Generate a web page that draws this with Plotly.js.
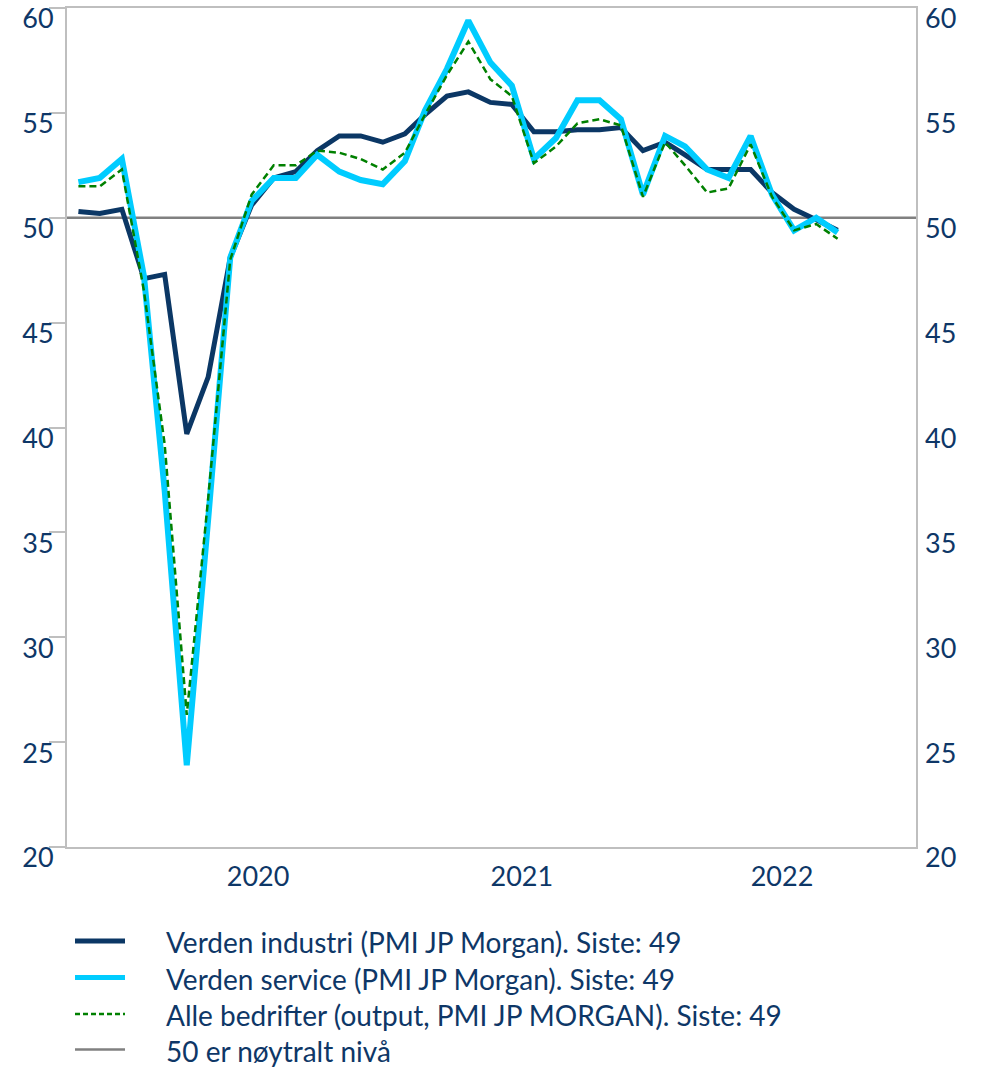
<!DOCTYPE html>
<html>
<head>
<meta charset="utf-8">
<script src="https://cdn.plot.ly/plotly-3.0.1.min.js"></script>
<style>html,body{margin:0;padding:0;background:#fff;}#chart{width:982px;height:1067px;}</style>
</head>
<body>
<div id="chart"></div>
<script>
// ---- Data ----
const months = [
  "2019-11-01","2019-12-01",
  "2020-01-01","2020-02-01","2020-03-01","2020-04-01","2020-05-01","2020-06-01",
  "2020-07-01","2020-08-01","2020-09-01","2020-10-01","2020-11-01","2020-12-01",
  "2021-01-01","2021-02-01","2021-03-01","2021-04-01","2021-05-01","2021-06-01",
  "2021-07-01","2021-08-01","2021-09-01","2021-10-01","2021-11-01","2021-12-01",
  "2022-01-01","2022-02-01","2022-03-01","2022-04-01","2022-05-01","2022-06-01",
  "2022-07-01","2022-08-01","2022-09-01","2022-10-01"
];
const industri = [
  50.3, 50.2,
  50.4, 47.1, 47.3, 39.7, 42.4, 48.1,
  50.6, 51.9, 52.2, 53.2, 53.9, 53.9,
  53.6, 54.0, 54.9, 55.8, 56.0, 55.5,
  55.4, 54.1, 54.1, 54.2, 54.2, 54.3,
  53.2, 53.6, 53.0, 52.3, 52.3, 52.3,
  51.2, 50.4, 49.9, 49.4
];
const service = [
  51.7, 51.9,
  52.8, 47.2, 37.0, 23.9, 35.6, 48.1,
  50.8, 51.9, 51.9, 53.0, 52.2, 51.8,
  51.6, 52.7, 55.1, 57.1, 59.4, 57.4,
  56.3, 52.8, 53.8, 55.6, 55.6, 54.7,
  51.1, 53.9, 53.4, 52.3, 51.9, 53.9,
  51.1, 49.4, 50.0, 49.3
];
const alle = [
  51.5, 51.5,
  52.3, 46.5, 39.2, 26.3, 36.6, 48.0,
  51.1, 52.5, 52.5, 53.2, 53.1, 52.8,
  52.3, 53.1, 54.9, 56.8, 58.4, 56.6,
  55.8, 52.6, 53.4, 54.5, 54.7, 54.4,
  51.0, 53.6, 52.5, 51.2, 51.4, 53.5,
  51.0, 49.4, 49.7, 49.0
];
const neutral = 50;
const yearTickVals = ["2020-07-10","2021-07-15","2022-07-15"];
const yearTickText = ["2020","2021","2022"];
const yTicks = [20,25,30,35,40,45,50,55,60];
const legendLabels = [
  "Verden industri (PMI JP Morgan). Siste: 49",
  "Verden service (PMI JP Morgan). Siste: 49",
  "Alle bedrifter (output, PMI JP MORGAN). Siste: 49",
  "50 er nøytralt nivå"
];

// ---- Styles ----
const NAVY = "#0b3765";
const CYAN = "#00ccff";
const GREEN = "#008000";
const GREY = "#808080";
const AXIS = "#bfbfbf";
const TXT = "#0e3767";
const FONT = "Lato, 'Open Sans', sans-serif";
const TICKSIZE = 27;
const LEGSIZE = 28;

const traces = [
  {x: months, y: industri, type: "scatter", mode: "lines", line: {color: NAVY, width: 5}, hoverinfo: "skip"},
  {x: months, y: service, type: "scatter", mode: "lines", line: {color: CYAN, width: 6}, hoverinfo: "skip"},
  {x: months, y: alle, type: "scatter", mode: "lines", line: {color: GREEN, width: 2.5, dash: "7px,4px"}, hoverinfo: "skip"},
  {x: [months[0]], y: [neutral], yaxis: "y2", type: "scatter", mode: "none", showlegend: false, hoverinfo: "skip"}
];

// plot area geometry (px)
const L = 67, R = 916, T = 8, B = 847;
const W = 982, H = 1067;
const px2x = p => (p - L) / (R - L);
const px2y = p => (B - p) / (B - T);

const shapes = [
  {type: "line", xref: "paper", yref: "y", x0: 0, x1: 1, y0: neutral, y1: neutral,
   line: {color: GREY, width: 2.5}, layer: "below"}
];
const annotations = [];
const legendStyles = [
  {color: NAVY, width: 5, dash: "solid"},
  {color: CYAN, width: 5, dash: "solid"},
  {color: GREEN, width: 2.5, dash: "5px,3px"},
  {color: GREY, width: 2.5, dash: "solid"}
];
const rowY = [941, 977.5, 1014, 1049.5];
legendLabels.forEach((lab, i) => {
  shapes.push({type: "line", xref: "paper", yref: "paper",
    x0: px2x(75), x1: px2x(125), y0: px2y(rowY[i]), y1: px2y(rowY[i]),
    line: legendStyles[i]});
  annotations.push({xref: "paper", yref: "paper", x: px2x(164), y: px2y(rowY[i] + 1),
    xanchor: "left", yanchor: "middle", showarrow: false, text: lab,
    font: {family: FONT, size: LEGSIZE, color: TXT}});
});

const layout = {
  width: W, height: H,
  margin: {l: L, r: W - R, t: T, b: H - B, pad: 0},
  paper_bgcolor: "#fff", plot_bgcolor: "#fff",
  showlegend: false,
  font: {family: FONT, size: TICKSIZE, color: TXT},
  xaxis: {
    type: "date", range: ["2019-10-16", "2023-01-19"],
    tickvals: yearTickVals, ticktext: yearTickText,
    ticks: "", showgrid: false, zeroline: false,
    showline: true, mirror: true, linecolor: AXIS, linewidth: 2,
    tickfont: {family: FONT, size: TICKSIZE, color: TXT},
    ticklabelstandoff: 5
  },
  yaxis: {
    range: [20, 60], tickvals: yTicks, ticks: "outside", ticklen: 16, tickwidth: 2, tickcolor: AXIS,
    showgrid: false, zeroline: false,
    showline: true, mirror: true, linecolor: AXIS, linewidth: 2,
    tickfont: {family: FONT, size: TICKSIZE, color: TXT},
    ticklabelshift: 11, ticklabelstandoff: -10
  },
  yaxis2: {
    range: [20, 60], tickvals: yTicks, overlaying: "y", side: "right",
    ticks: "", showgrid: false, zeroline: false, showline: false,
    tickfont: {family: FONT, size: TICKSIZE, color: TXT},
    ticklabelshift: 11, ticklabelstandoff: 8
  },
  shapes: shapes,
  annotations: annotations
};

Plotly.newPlot("chart", traces, layout, {displayModeBar: false, staticPlot: true});
</script>
</body>
</html>
